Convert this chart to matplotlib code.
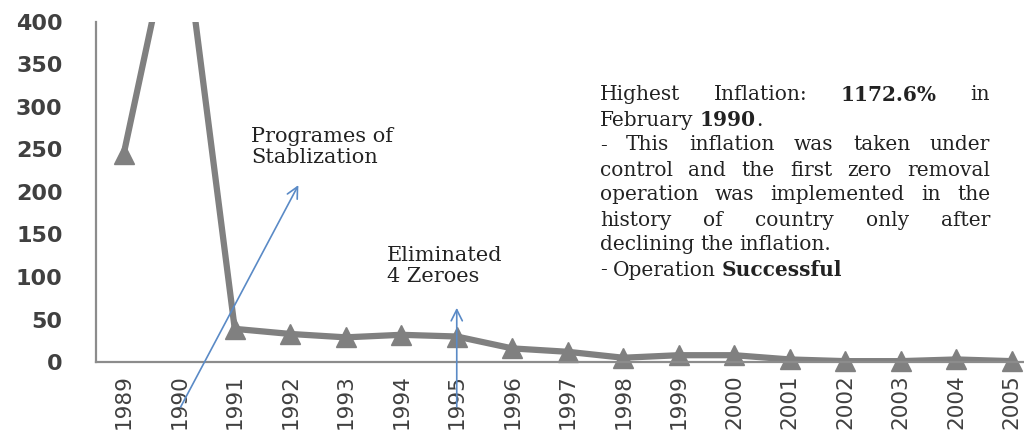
import matplotlib
matplotlib.use("Agg")
import matplotlib.pyplot as plt
from matplotlib.transforms import IdentityTransform

years = [str(y) for y in range(1989, 2006)]
inflation = [245, 550, 39, 33, 29, 32, 30, 16, 12, 5, 8, 8, 3, 1, 1, 3, 1]
yticks = [0, 50, 100, 150, 200, 250, 300, 350, 400]

# text box lines: (words with bold flag), justified?
note_lines = [
    ([("Highest", 0), ("Inflation:", 0), ("1172.6%", 1), ("in", 0)], True),
    ([("February", 0), ("1990", 1), (".", 0)], False),
    ([("-", 0), ("This", 0), ("inflation", 0), ("was", 0), ("taken", 0), ("under", 0)], True),
    ([("control", 0), ("and", 0), ("the", 0), ("first", 0), ("zero", 0), ("removal", 0)], True),
    ([("operation", 0), ("was", 0), ("implemented", 0), ("in", 0), ("the", 0)], True),
    ([("history", 0), ("of", 0), ("country", 0), ("only", 0), ("after", 0)], True),
    ([("declining", 0), ("the", 0), ("inflation.", 0)], False),
    ([("-", 0), ("Operation", 0), ("Successful", 1)], False),
]

W, H = 1024, 434
fig = plt.figure(figsize=(W / 100, H / 100), dpi=100)
ax = fig.add_axes([96 / W, 72 / H, 943.5 / W, 340 / H])

x = list(range(len(years)))
ax.plot(x, inflation, color="#808080", lw=4.5, solid_joinstyle="miter")
# markers are not clipped at the x axis (the 1990 one falls off the figure)
ax.plot(x, inflation, ls="none", marker="^", ms=15, color="#808080",
        clip_on=False)
ax.set_xlim(-0.5, len(years) - 0.5)
ax.set_ylim(0, 400)
ax.set_xticks(x)
ax.set_xticklabels(years, rotation=90, fontsize=15.5, color="#404040")
ax.set_yticks(yticks)
ax.set_yticklabels([str(v) for v in yticks], fontsize=16, fontweight="bold",
                   color="#404040")
ax.tick_params(axis="y", length=0, pad=24)
ax.tick_params(axis="x", length=0, pad=9)
for s in ("top", "right"):
    ax.spines[s].set_visible(False)
for s in ("left", "bottom"):
    ax.spines[s].set_color("#8c8c8c")
    ax.spines[s].set_linewidth(1.6)

blue = "#5a8ac6"
ax.annotate("", xy=(3.17, 211), xytext=(1, -56), annotation_clip=False,
            arrowprops=dict(arrowstyle="->,head_length=0.8,head_width=0.4",
                            color=blue, lw=1.2))
ax.annotate("", xy=(6, 67), xytext=(6, -56), annotation_clip=False,
            arrowprops=dict(arrowstyle="->,head_length=0.8,head_width=0.4",
                            color=blue, lw=1.2))

serif = "DejaVu Serif"
ax.text(2.3, 277, "Programes of\nStablization", fontsize=15, family=serif,
        va="top", ha="left", color="#222222", linespacing=1.15)
ax.text(4.74, 137, "Eliminated\n4 Zeroes", fontsize=15, family=serif,
        va="top", ha="left", color="#222222", linespacing=1.15)

# justified note block in pixel coordinates
renderer = fig.canvas.get_renderer()
x0, x1 = 600, 990
y_first, step = 93, 25
space = 6
for i, (words, justify) in enumerate(note_lines):
    yc = H - (y_first + i * step)
    objs = []
    for w, b in words:
        t = fig.text(0, yc, w, transform=IdentityTransform(), family=serif,
                     fontsize=14.5, fontweight="bold" if b else "normal",
                     va="center_baseline", ha="left", color="#222222")
        objs.append(t)
    widths = [t.get_window_extent(renderer).width for t in objs]
    if justify and len(objs) > 1:
        gap = (x1 - x0 - sum(widths)) / (len(objs) - 1)
    else:
        gap = space
    cx = x0
    for j, (t, wd) in enumerate(zip(objs, widths)):
        if words[j][0] == "." and j > 0:
            cx -= gap
        t.set_x(cx)
        cx += wd + gap

fig.savefig("out.png", dpi=100)
